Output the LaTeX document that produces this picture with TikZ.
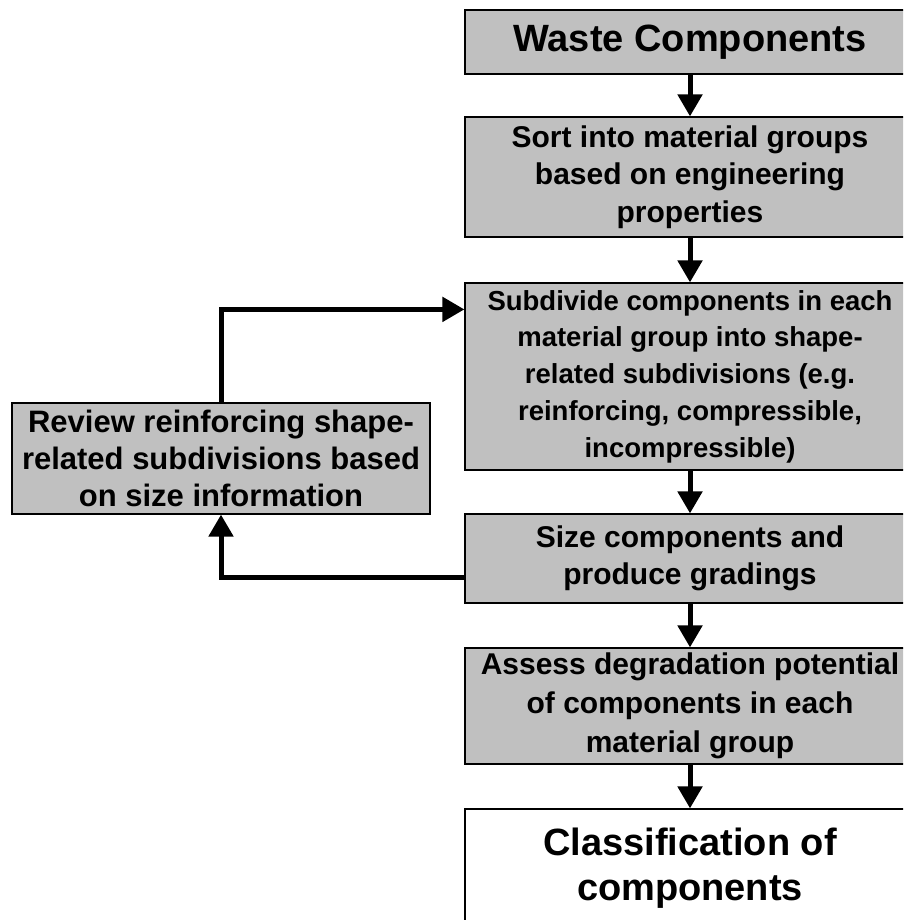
\documentclass[tikz,border=0pt]{standalone}
\usepackage{fontspec}
\setmainfont{Liberation Sans}
\usetikzlibrary{arrows.meta}

\definecolor{boxgray}{HTML}{C0C0C0}

\begin{document}
\begin{tikzpicture}[x=1pt, y=-1pt, >={Triangle[length=22pt, width=24pt]},
    stage/.style={draw=black, line width=1.2pt, fill=boxgray, minimum width=450pt, align=center, inner sep=0pt},
    flow/.style={->, line width=5pt}]
    \useasboundingbox (0,0) rectangle (903,920);
    \clip (0,0) rectangle (903,920);

    \node[stage, minimum height=64pt, font=\bfseries\fontsize{38}{44}\selectfont] (waste) at (690,42) {Waste Components};
    \node[stage, minimum height=120pt, font=\bfseries\fontsize{30}{37.5}\selectfont] (sort) at (690,177) {Sort into material groups\\based on engineering\\properties};
    \node[stage, minimum height=187pt, font=\bfseries\fontsize{27.5}{36.8}\selectfont] (subdiv) at (690,376.5) {Subdivide components in each\\material group into shape-\\related subdivisions (e.g.\\reinforcing, compressible,\\incompressible)};
    \node[stage, minimum height=89pt, font=\bfseries\fontsize{30}{37}\selectfont] (size) at (690,558.5) {Size components and\\produce gradings};
    \node[stage, minimum height=116pt, font=\bfseries\fontsize{30}{39}\selectfont] (assess) at (690,706) {Assess degradation potential\\of components in each\\material group};
    \node[stage, fill=white, minimum height=118pt, font=\bfseries\fontsize{38}{45}\selectfont] (classif) at (690,868) {Classification of\\components};

    \node[stage, minimum width=418pt, minimum height=111pt, font=\bfseries\fontsize{31}{36.7}\selectfont] (review) at (221,458.5) {Review reinforcing shape-\\related subdivisions based\\on size information};

    \draw[flow] (waste) -- (sort);
    \draw[flow] (sort) -- (subdiv);
    \draw[flow] (subdiv) -- (size);
    \draw[flow] (size) -- (assess);
    \draw[flow] (assess) -- (classif);

    % feedback loop
    \draw[flow] ([yshift=-18.5pt]size.west) -| (review.south);
    \draw[flow] (review.north) |- ([yshift=-27pt]subdiv.north west);
\end{tikzpicture}
\end{document}
